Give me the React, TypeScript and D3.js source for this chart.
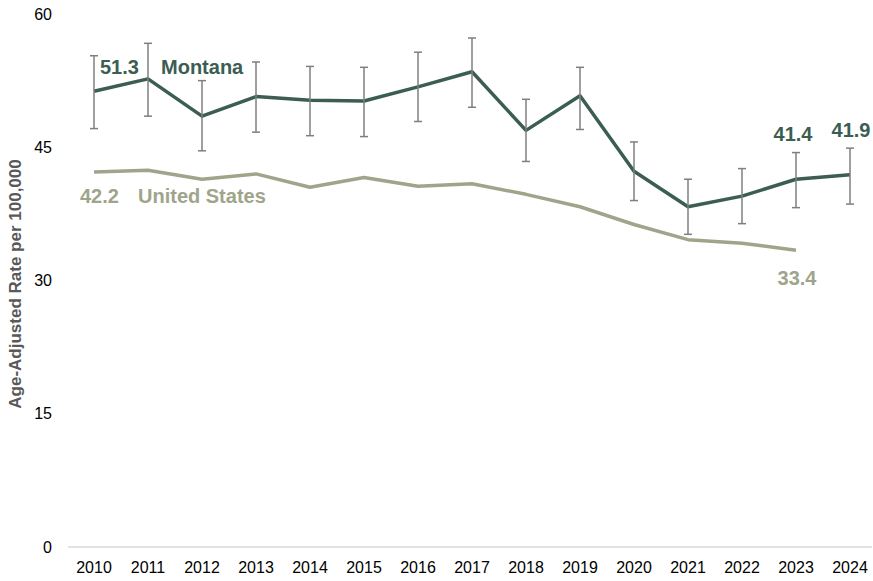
import * as d3 from 'd3';

const years = [2010, 2011, 2012, 2013, 2014, 2015, 2016, 2017, 2018, 2019, 2020, 2021, 2022, 2023, 2024];
const montana = [51.3, 52.7, 48.5, 50.7, 50.3, 50.2, 51.8, 53.5, 46.9, 50.8, 42.3, 38.3, 39.5, 41.4, 41.9];
const montanaLow = [47.1, 48.5, 44.6, 46.7, 46.3, 46.2, 47.9, 49.5, 43.4, 47.0, 39.0, 35.2, 36.4, 38.2, 38.6];
const montanaHigh = [55.3, 56.7, 52.5, 54.6, 54.1, 54.0, 55.7, 57.3, 50.4, 54.0, 45.6, 41.4, 42.6, 44.4, 44.9];
const usYears = [2010, 2011, 2012, 2013, 2014, 2015, 2016, 2017, 2018, 2019, 2020, 2021, 2022, 2023];
const us = [42.2, 42.4, 41.4, 42.0, 40.5, 41.6, 40.6, 40.9, 39.7, 38.3, 36.3, 34.6, 34.2, 33.4];
const yTicks = [0, 15, 30, 45, 60];

const W = 873;
const H = 581;
const MT = '#3b5d54';
const USC = '#a0a48a';
const FONT = '"Liberation Sans", Arial, sans-serif';

export default function App() {
  const x = d3.scalePoint<number>().domain(years).range([94, 850]);
  const y = d3.scaleLinear().domain([0, 60]).range([547, 14]);

  const mtLine = d3.line<number>().x((_d, i) => x(years[i])!).y(d => y(d))(montana) || '';
  const usLine = d3.line<number>().x((_d, i) => x(usYears[i])!).y(d => y(d))(us) || '';

  const last = years.length - 1;
  const usLast = usYears.length - 1;

  return (
    <svg width={W} height={H} style={{ position: 'absolute', left: 0, top: 0, background: '#fff' }} fontFamily={FONT}>
      <line x1={68} x2={872} y1={y(0)} y2={y(0)} stroke="#d9d9d9" strokeWidth={1.5} />
      {yTicks.map(t => (
        <text key={t} x={52} y={y(t)} dy="0.35em" textAnchor="end" fontSize={16} fill="#000">{t}</text>
      ))}
      {years.map(yr => (
        <text key={yr} x={x(yr)} y={567} dy="0.35em" textAnchor="middle" fontSize={16} fill="#000">{yr}</text>
      ))}
      <text transform="translate(21,284) rotate(-90)" textAnchor="middle" fontSize={17} fontWeight="bold" fill="#595959">
        Age-Adjusted Rate per 100,000
      </text>

      <path d={usLine} fill="none" stroke={USC} strokeWidth={3.5} strokeLinejoin="round" />
      <path d={mtLine} fill="none" stroke={MT} strokeWidth={3.5} strokeLinejoin="round" />

      {years.map((yr, i) => (
        <g key={'e' + yr} stroke="#7f7f7f" strokeWidth={1.5}>
          <line x1={x(yr)} x2={x(yr)} y1={y(montanaLow[i])} y2={y(montanaHigh[i])} />
          <line x1={x(yr)! - 4} x2={x(yr)! + 4} y1={y(montanaLow[i])} y2={y(montanaLow[i])} />
          <line x1={x(yr)! - 4} x2={x(yr)! + 4} y1={y(montanaHigh[i])} y2={y(montanaHigh[i])} />
        </g>
      ))}

      <g fontSize={20} fontWeight="bold">
        <text x={100} y={74} fill={MT}>{montana[0].toFixed(1)}</text>
        <text x={161} y={74} fill={MT}>Montana</text>
        <text x={x(years[last - 1])! - 3} y={141} textAnchor="middle" fill={MT}>{montana[last - 1].toFixed(1)}</text>
        <text x={x(years[last])! + 1} y={137} textAnchor="middle" fill={MT}>{montana[last].toFixed(1)}</text>
        <text x={80} y={203} fill={USC}>{us[0].toFixed(1)}</text>
        <text x={138} y={203} fill={USC}>United States</text>
        <text x={x(usYears[usLast])! + 1} y={285} textAnchor="middle" fill={USC}>{us[usLast].toFixed(1)}</text>
      </g>
    </svg>
  );
}
